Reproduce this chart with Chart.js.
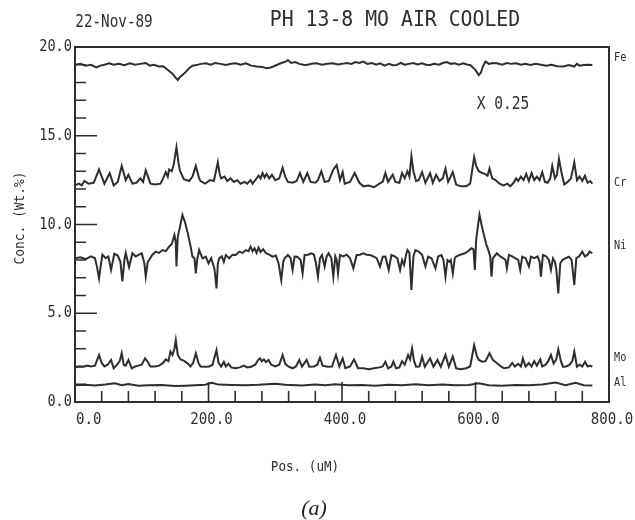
<!DOCTYPE html>
<html>
<head>
<meta charset="utf-8">
<script src="https://cdn.jsdelivr.net/npm/chart.js@4"></script>
<style>
html,body{margin:0;padding:0;background:#fff;}
#wrap{width:635px;height:520px;}
</style>
</head>
<body>
<div id="wrap"><canvas id="c" width="635" height="520"></canvas></div>
<script>
// ---- data (Pos. in uM, Conc. in Wt.%; Fe shown x 0.25 as in the original) ----
const fePos = [0,8,16,24,32,38,44,51,58,66,74,82,90,98,106,112,118,126,132,136,141,146,150,154,157,161,166,171,176,182,189,196,203,210,218,226,234,241,248,256,264,272,280,287,293,297,303,309,314,319,324,330,336,342,347,354,362,370,378,386,394,400,407,414,420,426,432,438,445,451,457,464,470,476,482,488,494,500,507,513,520,526,532,538,545,551,557,563,569,575,582,588,592,596,600,605,608,611,615,620,626,632,640,647,654,661,668,675,682,690,698,706,714,722,732,740,748,752,756,762,768,775];
const feVal = [19.0,19.05,18.95,19.0,18.85,18.95,19.0,19.08,19.0,19.05,18.98,19.08,19.0,19.05,19.1,18.95,19.0,18.9,18.92,18.8,18.65,18.5,18.3,18.14,18.3,18.42,18.6,18.8,18.95,18.98,19.05,19.08,19.0,19.1,19.05,18.99,19.05,19.08,19.0,19.08,18.95,18.9,18.88,18.8,18.85,18.9,19.0,19.1,19.15,19.26,19.1,19.15,19.05,19.0,18.99,19.05,19.08,19.0,19.05,19.08,19.02,19.05,19.1,19.05,19.15,19.1,19.18,19.05,19.1,19.0,19.08,18.95,19.05,18.97,18.99,19.1,19.0,19.05,19.1,19.02,19.08,19.0,18.99,19.05,19.0,19.1,19.15,19.05,19.08,19.0,19.08,19.0,18.99,18.85,18.7,18.42,18.55,18.9,19.18,19.05,19.1,19.08,19.0,19.1,19.05,19.08,19.0,19.05,18.99,19.05,19.0,18.95,19.0,18.92,18.9,18.98,18.9,19.05,18.95,18.99,19.0,18.98];

const crPos = [0,6,10,14,20,28,36,44,52,58,64,70,76,80,86,92,98,102,106,113,120,128,132,136,139,141,145,148,152,155,157,163,171,176,181,186,188,195,202,208,214,217,219,224,228,233,238,243,248,254,258,263,266,271,275,278,281,284,287,291,295,300,306,311,315,319,326,332,337,342,348,353,360,364,369,374,380,387,392,397,401,404,412,419,426,432,440,448,456,461,465,469,476,480,486,490,494,498,501,504,507,511,515,520,525,532,536,541,546,551,555,559,566,571,578,586,592,598,601,605,610,614,618,621,625,630,636,642,648,652,657,661,664,668,672,676,680,684,688,692,696,700,704,708,712,715,719,722,725,729,733,738,743,748,752,756,760,764,768,772,775];
const crVal = [12.2,12.3,12.2,12.45,12.3,12.35,13.1,12.3,12.9,12.2,12.4,13.3,12.5,12.8,12.3,12.35,12.6,12.4,13.05,12.3,12.25,12.3,12.6,12.95,12.7,13.1,13.0,13.4,14.35,13.5,13.05,12.55,12.45,12.7,13.3,12.6,12.45,12.3,12.5,12.45,13.5,12.8,12.6,12.7,12.45,12.6,12.4,12.5,12.3,12.4,12.3,12.5,12.3,12.55,12.75,12.6,12.9,12.65,12.85,12.6,12.8,12.5,12.6,13.2,12.7,12.4,12.35,12.45,12.9,12.4,12.9,12.4,12.35,12.5,13.0,12.4,12.45,13.1,13.35,12.5,12.95,12.3,12.4,12.9,12.35,12.15,12.2,12.1,12.3,12.4,12.9,12.4,12.8,12.4,12.35,12.9,12.6,13.0,12.7,13.85,13.0,12.45,12.5,12.95,12.35,12.9,12.35,12.8,12.45,12.6,13.15,12.4,12.95,12.25,12.15,12.15,12.3,13.8,13.3,13.0,12.9,12.85,12.75,13.15,12.6,12.5,12.3,12.2,12.3,12.15,12.35,12.6,12.45,12.7,12.5,12.85,12.45,12.9,12.5,12.7,12.5,12.95,12.4,12.35,12.6,13.3,12.6,12.8,13.7,12.9,12.25,12.4,12.6,13.5,12.5,12.7,12.45,12.75,12.35,12.45,12.3];

const niPos = [0,8,16,24,30,33,36,39,41,46,50,54,57,59,64,68,71,74,76,81,86,91,96,100,104,106,109,111,116,121,126,131,136,141,145,149,151,152,154,158,161,165,169,173,176,179,181,183,186,191,196,200,204,209,212,214,216,220,223,226,231,236,241,246,251,256,260,263,266,269,272,275,278,282,286,291,296,301,305,309,312,314,319,323,326,329,333,338,341,344,349,354,358,361,364,367,370,374,377,380,384,387,390,392,394,397,402,407,412,417,422,427,432,437,442,447,452,457,461,465,470,474,479,483,487,490,493,496,498,501,504,507,510,515,520,525,529,534,540,544,549,552,555,558,561,563,566,569,571,577,584,589,594,597,599,601,604,606,609,612,616,620,622,624,626,628,632,637,642,645,647,650,655,660,664,667,670,675,680,683,688,693,696,698,701,706,710,713,716,719,721,724,727,730,735,740,744,748,751,755,760,764,768,771,775];
const niVal = [8.1,8.15,8.05,8.2,8.1,7.6,6.97,7.8,8.3,8.1,8.2,7.45,8.0,8.35,8.25,7.9,6.8,8.0,8.4,7.6,8.38,8.2,8.3,8.38,7.8,7.07,7.9,8.0,8.3,8.47,8.4,8.56,8.5,8.75,8.9,9.41,9.0,7.63,9.32,10.0,10.54,10.1,9.5,8.8,8.19,8.1,7.25,8.0,8.56,8.09,8.19,7.81,8.1,7.5,6.4,7.8,8.09,8.2,7.9,8.28,8.1,8.3,8.28,8.47,8.4,8.56,8.5,8.75,8.5,8.66,8.4,8.7,8.45,8.6,8.38,8.3,8.19,8.25,7.8,6.87,7.9,8.09,8.28,8.1,7.44,8.2,8.19,8.0,7.25,8.28,8.3,8.38,8.3,7.8,7.06,8.1,8.28,7.63,8.2,8.38,8.1,7.06,8.2,8.0,7.25,8.28,8.2,8.3,8.1,7.53,8.28,8.3,8.38,8.3,8.28,8.2,8.1,7.63,8.19,8.2,7.44,8.28,8.2,8.09,7.44,8.0,7.72,8.3,8.56,8.4,6.31,8.2,8.56,8.47,8.3,7.63,8.19,8.1,7.53,8.2,8.28,8.0,7.06,8.0,7.9,8.0,7.25,8.1,8.19,8.3,8.38,8.5,8.66,8.6,7.44,9.13,10.0,10.54,10.0,9.5,8.9,8.47,8.2,7.06,8.1,8.19,8.38,8.2,8.09,8.0,7.53,8.28,8.2,8.09,8.0,7.44,8.19,8.1,7.63,8.19,8.1,8.2,7.9,7.06,8.28,8.2,8.0,7.44,8.09,7.9,7.5,6.12,7.8,8.0,8.1,8.19,8.0,6.59,8.1,8.2,8.47,8.19,8.3,8.47,8.38];

const moPos = [0,6,12,18,24,30,36,40,44,49,54,58,63,67,70,73,76,80,85,90,95,100,105,109,113,120,126,132,136,140,143,146,149,151,154,158,162,166,169,173,177,181,185,188,195,201,206,212,215,219,223,226,230,234,240,247,253,258,264,270,274,277,280,283,286,290,294,300,306,311,315,320,326,331,336,340,347,351,358,363,367,371,378,385,391,396,401,405,412,418,424,432,440,448,456,461,465,469,474,477,481,486,490,494,499,502,505,508,511,516,520,524,532,537,543,548,555,560,566,571,578,586,592,598,602,605,610,615,621,626,632,638,643,650,655,659,664,668,671,675,680,684,688,692,697,700,705,709,713,717,721,724,728,731,736,741,745,748,752,756,760,764,768,772,775];
const moVal = [1.95,2.0,1.98,2.05,2.0,2.05,2.65,2.2,2.0,2.1,2.37,1.9,2.1,2.3,2.75,2.1,2.05,2.37,1.9,2.0,2.05,2.1,2.46,2.27,2.0,2.0,2.05,2.2,2.4,2.3,2.84,2.65,3.0,3.49,2.65,2.4,2.35,2.25,2.17,2.0,2.2,2.75,2.2,2.0,1.99,2.0,2.1,2.93,2.2,1.99,2.27,2.0,2.15,1.95,1.9,1.95,2.05,1.95,1.99,2.1,2.35,2.46,2.3,2.4,2.25,2.37,2.1,2.0,2.1,2.65,2.15,1.99,1.9,2.0,2.37,1.99,2.37,1.99,2.0,2.1,2.5,2.05,1.99,2.0,2.65,2.0,2.46,1.9,2.0,2.4,1.9,1.9,1.85,1.9,1.95,2.0,2.27,1.9,2.0,2.27,1.9,1.95,2.3,2.1,2.65,2.4,3.02,2.3,1.99,2.0,2.56,1.99,2.46,1.99,2.37,1.99,2.65,1.99,2.56,1.9,1.85,1.9,2.0,3.2,2.6,2.37,2.27,2.3,2.75,2.37,2.2,2.0,1.9,1.95,2.2,2.0,2.15,2.0,2.46,2.0,2.2,2.0,2.3,2.05,2.4,2.0,2.1,2.3,2.65,2.17,2.4,2.97,2.3,1.99,2.0,2.1,2.3,2.84,1.99,2.1,2.0,2.27,2.0,2.05,1.99];

const alPos = [0,15,30,45,60,70,80,95,110,130,150,165,180,195,205,215,235,255,275,300,315,340,360,375,390,410,430,450,470,490,510,530,550,570,590,605,620,640,660,680,700,720,735,750,762,775];
const alVal = [0.95,0.97,0.93,0.98,1.05,0.95,1.02,0.92,0.95,0.96,0.9,0.92,0.95,0.97,1.08,0.98,0.96,0.94,0.97,1.03,0.97,0.93,0.98,0.95,1.0,0.94,0.96,0.92,0.97,0.95,1.0,0.95,0.98,0.94,0.96,1.05,0.95,0.92,0.96,0.94,0.98,1.1,0.95,1.08,0.94,0.93];

const xMajorTicks = [0,200,400,600,800];
const xTickLabels = ["0.0","200.0","400.0","600.0","800.0"];
const xMinorTicks = [40,80,120,160,240,280,320,360,440,480,520,560,640,680,720,760];
const yMajorTicks = [0,5,10,15,20];
const yTickLabels = ["0.0","5.0","10.0","15.0","20.0"];
const yMinorTicks = [1,2,3,4,6,7,8,9,11,12,13,14,16,17,18,19];

const seriesNames = ["Fe","Cr","Ni","Mo","Al"];
const seriesLabelY = [19.4,12.35,8.8,2.5,1.05];

const titleText = "PH 13-8 MO AIR COOLED";
const dateText = "22-Nov-89";
const xTitle = "Pos. (uM)";
const yTitle = "Conc. (Wt.%)";
const scaleNote = "X 0.25";
const panelTag = "(a)";

function pts(p, v){ return p.map((x,i)=>({x:x, y:v[i]})); }

const INK = '#2e2e2e';
const MONO = '"DejaVu Sans Mono", "Liberation Mono", monospace';

function txt(ctx, s, x, y, size, sx, align, family, style){
  ctx.save();
  ctx.font = (style ? style + ' ' : '') + size + 'px ' + (family || MONO);
  ctx.textBaseline = 'middle';
  ctx.translate(x, y);
  ctx.scale(sx, 1);
  ctx.textAlign = align || 'center';
  ctx.fillText(s, 0, 0);
  ctx.restore();
}

const decor = {
  id: 'decor',
  beforeDraw(chart){
    const ctx = chart.ctx;
    ctx.save(); ctx.fillStyle = '#fff'; ctx.fillRect(0,0,chart.width,chart.height); ctx.restore();
  },
  afterDraw(chart){
    const ctx = chart.ctx, xs = chart.scales.x, ys = chart.scales.y, a = chart.chartArea;
    ctx.save();
    ctx.strokeStyle = INK; ctx.fillStyle = INK; ctx.lineWidth = 2;
    ctx.strokeRect(a.left, a.top, a.right - a.left, a.bottom - a.top);
    ctx.lineWidth = 1.6;
    ctx.beginPath();
    yMajorTicks.forEach(v=>{ const y = ys.getPixelForValue(v); ctx.moveTo(a.left, y); ctx.lineTo(a.left + 22, y); });
    yMinorTicks.forEach(v=>{ const y = ys.getPixelForValue(v); ctx.moveTo(a.left, y); ctx.lineTo(a.left + 11, y); });
    xMajorTicks.forEach(v=>{ const x = xs.getPixelForValue(v); ctx.moveTo(x, a.bottom); ctx.lineTo(x, a.bottom - 20); });
    xMinorTicks.forEach(v=>{ const x = xs.getPixelForValue(v); ctx.moveTo(x, a.bottom); ctx.lineTo(x, a.bottom - 11); });
    ctx.stroke();
    // tick labels
    yMajorTicks.forEach((v,i)=>{ txt(ctx, yTickLabels[i], a.left - 3, ys.getPixelForValue(v), 16, 0.85, 'right'); });
    xMajorTicks.forEach((v,i)=>{
      const x = xs.getPixelForValue(v);
      if (i === 0) txt(ctx, xTickLabels[i], x + 1, a.bottom + 18, 16, 0.88, 'left');
      else txt(ctx, xTickLabels[i], x + 3, a.bottom + 18, 16, 0.88, 'center');
    });
    // series names at right
    seriesNames.forEach((n,i)=>{ txt(ctx, n, a.right + 5, ys.getPixelForValue(seriesLabelY[i]), 12, 0.85, 'left'); });
    // titles
    txt(ctx, titleText, 395, 20, 22, 0.9, 'center');
    txt(ctx, dateText, 114, 23, 17, 0.84, 'center');
    txt(ctx, xTitle, 305, 467, 14, 0.9, 'center');
    ctx.save(); ctx.translate(20, 218); ctx.rotate(-Math.PI/2); txt(ctx, yTitle, 0, 0, 14, 0.92, 'center'); ctx.restore();
    txt(ctx, scaleNote, 503, 104, 18, 0.81, 'center');
    ctx.fillStyle = '#222';
    txt(ctx, panelTag, 314, 509, 22, 1, 'center', '"Liberation Serif", "DejaVu Serif", serif', 'italic');
    ctx.restore();
  }
};

const mk = (name, p, v) => ({ label: name, data: pts(p, v), borderColor: INK, borderWidth: 2, pointRadius: 0, tension: 0, fill: false });

new Chart(document.getElementById('c'), {
  type: 'line',
  data: { datasets: [
    mk(seriesNames[0], fePos, feVal),
    mk(seriesNames[1], crPos, crVal),
    mk(seriesNames[2], niPos, niVal),
    mk(seriesNames[3], moPos, moVal),
    mk(seriesNames[4], alPos, alVal)
  ]},
  options: {
    responsive: false,
    devicePixelRatio: 1,
    animation: false,
    layout: { padding: { left: 75, right: 26, top: 47, bottom: 118 } },
    plugins: { legend: { display: false }, tooltip: { enabled: false }, title: { display: false } },
    scales: {
      x: { type: 'linear', min: 0, max: 800, display: false },
      y: { type: 'linear', min: 0, max: 20, display: false }
    }
  },
  plugins: [decor]
});
</script>
</body>
</html>
